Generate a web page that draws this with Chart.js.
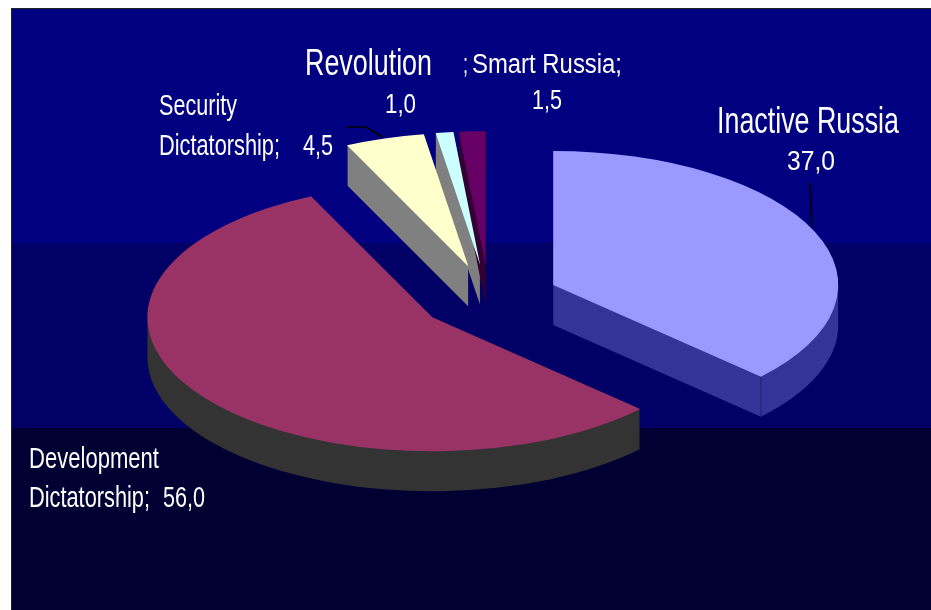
<!DOCTYPE html>
<html>
<head>
<meta charset="utf-8">
<title>Russia scenarios</title>
<script src="https://cdn.jsdelivr.net/npm/chart.js@4"></script>
<style>
  html, body { margin: 0; padding: 0; background: #fff; overflow: hidden; }
  #wrap {
    position: absolute; left: 11px; top: 8px; width: 920px; height: 602px;
    box-sizing: border-box; border-left: 1px solid #222; border-top: 1px solid #222;
    background: linear-gradient(#000080 0, #000080 234px, #000066 234px, #000066 419px, #000033 419px);
  }
  #pie { position: absolute; left: 0; top: 0; }
</style>
</head>
<body>
<div id="wrap"></div>
<canvas id="pie" width="931" height="610"></canvas>
<script>
const categories = ["Inactive Russia", "Development Dictatorship", "Security Dictatorship", "Revolution", "Smart Russia"];
const values = [37.0, 56.0, 4.5, 1.0, 1.5];
const topColors = ["#9999ff", "#993366", "#ffffcc", "#ccffff", "#660066"];
const sideColors = ["#333399", "#333333", "#808080", "#808080", "#330033"];

// [text, left, baseline, font size, width to fit]
const labels = [
  ["Revolution", 305, 75, 37, 127],
  [";", 463, 73, 28, 5],
  ["Smart Russia;", 472, 73, 27, 150],
  ["1,0", 385, 113, 27, 31],
  ["1,5", 532, 109, 27, 30],
  ["Security", 159, 115, 29, 78],
  ["Dictatorship;", 159, 155, 29, 121],
  ["4,5", 303, 155, 29, 30],
  ["Inactive Russia", 717, 133, 37, 182],
  ["37,0", 787, 170, 27, 48],
  ["Development", 29, 468, 29, 130],
  ["Dictatorship;", 29, 507, 29, 121],
  ["56,0", 163, 507, 29, 42]
];

// leader lines
const leaders = [
  [[346, 127], [366, 127], [383, 137]],
  [[810, 183], [811, 205], [812, 227]]
];

const tilt = 0.47;      // ellipse height / width
const depth = 40;       // pie thickness in px
const explode = 70;     // how far each slice is pulled out
const centerY = 298;

const pie3d = {
  id: "pie3d",
  afterDatasetUpdate(chart) {
    // pull every slice out along its middle angle
    chart.getDatasetMeta(0).data.forEach((arc) => {
      const mid = (arc.startAngle + arc.endAngle) / 2;
      arc.x += Math.cos(mid) * explode;
      arc.y += Math.sin(mid) * explode;
    });
  },
  beforeDatasetsDraw(chart) {
    const ctx = chart.ctx;
    ctx.save();
    ctx.translate(0, centerY);
    ctx.scale(1, tilt);
    ctx.translate(0, -centerY);

    // thickness: same sector repeated downwards, filled once so no seams show
    chart.getDatasetMeta(0).data.forEach((arc, i) => {
      ctx.fillStyle = sideColors[i];
      ctx.beginPath();
      for (let d = depth; d >= 1; d--) {
        const dy = d / tilt;
        ctx.moveTo(arc.x, arc.y + dy);
        ctx.arc(arc.x, arc.y + dy, arc.outerRadius, arc.startAngle, arc.endAngle);
        ctx.closePath();
      }
      ctx.fill();
    });

    // corner edge of the Inactive Russia block
    const first = chart.getDatasetMeta(0).data[0];
    const ex = first.x + Math.cos(first.endAngle) * first.outerRadius;
    const ey = first.y + Math.sin(first.endAngle) * first.outerRadius;
    ctx.strokeStyle = "#1a1a66";
    ctx.lineWidth = 1;
    ctx.beginPath();
    ctx.moveTo(ex, ey);
    ctx.lineTo(ex, ey + depth / tilt);
    ctx.stroke();
  },
  afterDatasetsDraw(chart) {
    chart.ctx.restore();
  },
  afterDraw(chart) {
    const ctx = chart.ctx;
    ctx.save();
    ctx.strokeStyle = "#000";
    ctx.lineWidth = 1.5;
    leaders.forEach((pts) => {
      ctx.beginPath();
      pts.forEach((p, i) => (i ? ctx.lineTo(p[0], p[1]) : ctx.moveTo(p[0], p[1])));
      ctx.stroke();
    });

    ctx.fillStyle = "#fff";
    ctx.textBaseline = "alphabetic";
    labels.forEach(([text, x, y, size, width]) => {
      ctx.font = `${size}px "Liberation Sans", Arial, sans-serif`;
      const sx = width / ctx.measureText(text).width;
      ctx.save();
      ctx.translate(x, y);
      ctx.scale(sx, 1);
      ctx.fillText(text, 0, 0);
      ctx.restore();
    });
    ctx.restore();
  }
};

new Chart(document.getElementById("pie"), {
  type: "pie",
  data: {
    labels: categories,
    datasets: [
      {
        data: values,
        backgroundColor: topColors,
        borderWidth: 0,
        clip: false,
      },
    ],
  },
  options: {
    responsive: false,
    animation: false,
    events: [],
    radius: 285,
    rotation: 0,
    layout: { padding: { left: 47, bottom: 14 } },
    plugins: {
      legend: { display: false },
      tooltip: { enabled: false },
      title: { display: false },
    },
  },
  plugins: [pie3d],
});
</script>
</body>
</html>
